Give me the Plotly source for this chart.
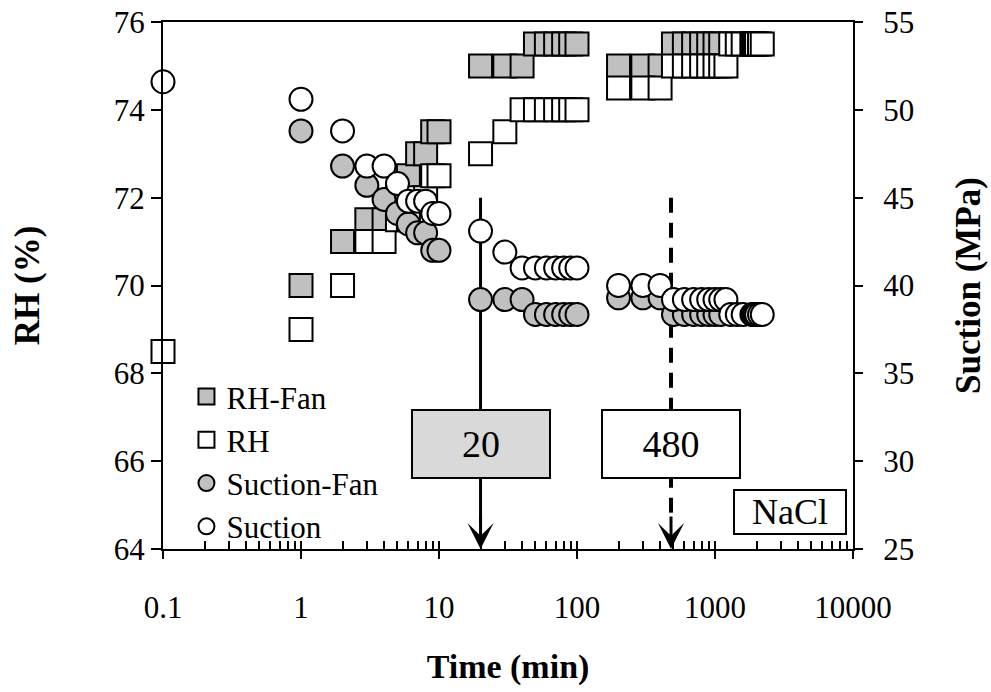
import math
import plotly.graph_objects as go

# ---------------- data ----------------
t_rh_fan = [1, 2, 3, 4, 5, 6, 7, 8, 9, 10,
            20, 30, 40, 50, 60, 70, 80, 90, 100,
            200, 300, 400, 500, 600, 700, 800, 900, 1000, 1100]
rh_fan = [70, 71, 71.5, 71.5, 72, 72.5, 73, 73, 73.5, 73.5,
          75, 75, 75, 75.5, 75.5, 75.5, 75.5, 75.5, 75.5,
          75, 75, 75, 75.5, 75.5, 75.5, 75.5, 75.5, 75.5, 75.5]

t_rh = [0.1, 1, 2, 3, 4, 5, 6, 7, 8, 9, 10,
        20, 30, 40, 50, 60, 70, 80, 90, 100,
        200, 300, 400, 500, 600, 700, 800, 900, 1000, 1100, 1200,
        1300, 1450, 1600, 1850, 1900, 1950, 2000, 2100, 2200]
rh = [68.5, 69, 70, 71, 71, 71.5, 71.5, 72, 72, 72.5, 72.5,
      73, 73.5, 74, 74, 74, 74, 74, 74, 74,
      74.5, 74.5, 74.5, 75, 75, 75, 75, 75, 75, 75, 75,
      75.5, 75.5, 75.5, 75.5, 75.5, 75.5, 75.5, 75.5, 75.5]

t_suc_fan = t_rh_fan
suc_fan = [48.8, 46.8, 45.7, 44.9, 44.1, 43.5, 43.0, 43.0, 42.0, 42.0,
           39.2, 39.2, 39.2, 38.35, 38.35, 38.35, 38.35, 38.35, 38.35,
           39.3, 39.3, 39.3, 38.35, 38.35, 38.35, 38.35, 38.35, 38.35, 38.35]

t_suc = t_rh
suc = [51.6, 50.6, 48.8, 46.8, 46.8, 45.8, 44.8, 44.8, 44.8, 44.1, 44.1,
       43.1, 41.9, 41.0, 41.0, 41.0, 41.0, 41.0, 41.0, 41.0,
       40.0, 40.0, 40.0, 39.2, 39.2, 39.2, 39.2, 39.2, 39.2, 39.2, 39.2,
       38.35, 38.35, 38.35, 38.35, 38.35, 38.35, 38.35, 38.35, 38.35]

x_tickvals = [0.1, 1, 10, 100, 1000, 10000]
x_ticktext = ["0.1", "1", "10", "100", "1000", "10000"]
x_minor = [m * 10 ** e for e in range(-1, 4) for m in range(2, 10)]

fan_time = 20      # min, solid arrow
nofan_time = 480   # min, dashed arrow

GRAY = "#c0c0c0"
FONT = "Liberation Serif"

fig = go.Figure()
sq = dict(symbol="square", size=23, line=dict(color="black", width=2))
ci = dict(symbol="circle", size=23, line=dict(color="black", width=2))

fig.add_trace(go.Scatter(x=t_rh_fan, y=rh_fan, mode="markers", name="RH-Fan",
                         marker=dict(color=GRAY, **sq), yaxis="y", cliponaxis=False))
fig.add_trace(go.Scatter(x=t_rh, y=rh, mode="markers", name="RH",
                         marker=dict(color="white", **sq), yaxis="y", cliponaxis=False))
fig.add_trace(go.Scatter(x=t_suc_fan, y=suc_fan, mode="markers", name="Suction-Fan",
                         marker=dict(color=GRAY, **ci), yaxis="y2", cliponaxis=False))
fig.add_trace(go.Scatter(x=t_suc, y=suc, mode="markers", name="Suction",
                         marker=dict(color="white", **ci), yaxis="y2", cliponaxis=False))
# empty trace so the overlay x axis (crossing major ticks) is drawn
fig.add_trace(go.Scatter(x=[], y=[], xaxis="x2", yaxis="y", showlegend=False,
                         hoverinfo="skip"))

# vertical marker lines
fig.add_shape(type="line", xref="x", yref="y", x0=fan_time, x1=fan_time,
              y0=72, y1=64.6, layer="below", line=dict(color="black", width=3))
fig.add_shape(type="line", xref="x", yref="y", x0=nofan_time, x1=nofan_time,
              y0=72, y1=64.6, layer="below",
              line=dict(color="black", width=4, dash="15px,10px"))

# arrow heads
for t in (fan_time, nofan_time):
    fig.add_annotation(x=math.log10(t), y=64, xref="x", yref="y", text="",
                       showarrow=True, ax=0, ay=-34, arrowhead=3, arrowsize=1.45,
                       arrowwidth=3, arrowcolor="black", standoff=0)

# boxed labels
fig.add_annotation(x=math.log10(fan_time), y=66.4, xref="x", yref="y", text="20",
                   xanchor="center", yanchor="middle",
                   showarrow=False, bgcolor="#d9d9d9", bordercolor="black",
                   borderwidth=2, borderpad=0, width=136, height=66,
                   font=dict(family=FONT, size=38, color="black"))
fig.add_annotation(x=math.log10(nofan_time), y=66.4, xref="x", yref="y", text="480",
                   xanchor="center", yanchor="middle",
                   showarrow=False, bgcolor="white", bordercolor="black",
                   borderwidth=2, borderpad=0, width=136, height=66,
                   font=dict(family=FONT, size=38, color="black"))
fig.add_annotation(x=0.909, y=0.071, xref="paper", yref="paper", text="NaCl",
                   xanchor="center", yanchor="middle",
                   showarrow=False, bgcolor="white", bordercolor="black",
                   borderwidth=2, borderpad=0, width=110, height=42,
                   font=dict(family=FONT, size=36, color="black"))

axis_common = dict(showgrid=False, zeroline=False, linecolor="black", linewidth=2,
                   tickcolor="black", tickwidth=2, automargin=False,
                   tickfont=dict(family=FONT, size=31, color="black"))

fig.update_layout(
    width=991, height=692,
    margin=dict(l=163, r=138, t=22, b=143),
    paper_bgcolor="white", plot_bgcolor="white",
    font=dict(family=FONT, size=30, color="black"),
    showlegend=True,
    legend=dict(x=0.034, y=0.34, xanchor="left", yanchor="top",
                bgcolor="rgba(0,0,0,0)", font=dict(family=FONT, size=31),
                tracegroupgap=0, itemsizing="trace"),
    xaxis=dict(type="log", range=[-1, 4], tickmode="array", tickvals=x_tickvals,
               ticktext=x_ticktext, ticks="outside", ticklen=8, showline=True,
               mirror=True, ticklabelstandoff=22,
               minor=dict(tickmode="array", tickvals=x_minor, ticks="inside",
                          ticklen=8, tickwidth=1.5, tickcolor="black", showgrid=False),
               title=dict(text="Time (min)", standoff=30,
                          font=dict(family=FONT, size=34, weight="bold")),
               **axis_common),
    xaxis2=dict(type="log", range=[-1, 4], overlaying="x", anchor="y", side="bottom",
                tickmode="array", tickvals=x_tickvals, ticks="inside", ticklen=8,
                showticklabels=False, showline=False, showgrid=False, zeroline=False,
                tickcolor="black", tickwidth=2, automargin=False),
    yaxis=dict(range=[64, 76], dtick=2, ticks="outside", ticklen=10, showline=True,
               title=dict(text="RH (%)", standoff=64,
                          font=dict(family=FONT, size=35, weight="bold")),
               **axis_common),
    yaxis2=dict(range=[25, 55], dtick=5, overlaying="y", side="right",
                ticks="outside", ticklen=8, showline=True, ticklabelstandoff=14,
                title=dict(text="Suction (MPa)", standoff=42,
                           font=dict(family=FONT, size=35, weight="bold")),
                **axis_common),
)

fig.write_html("out.html")
